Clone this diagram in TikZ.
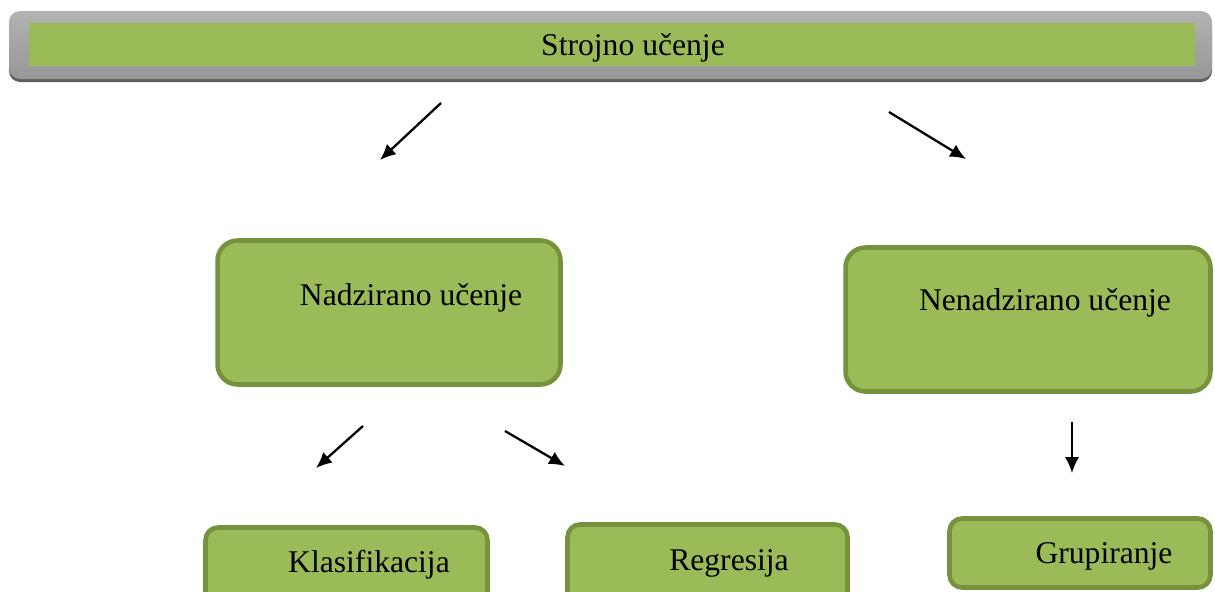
\documentclass[tikz,border=0pt]{standalone}
\usepackage{fontspec}
\setmainfont{Liberation Serif}
\usetikzlibrary{arrows.meta}
\definecolor{zelena}{HTML}{9BBB59}
\definecolor{rub}{HTML}{76923C}
\begin{document}
\begin{tikzpicture}[x=0.02cm,y=-0.02cm,>={Latex[length=9pt,width=8pt]},
  kutija/.style={draw=rub,fill=zelena,line width=2.6pt,rounded corners=0.4cm,inner sep=0pt},
  mala/.style={kutija,rounded corners=0.25cm},
  tekst/.style={font=\fontsize{18}{22}\selectfont,inner sep=0pt},
  strelica/.style={->,line width=1.3pt}]
\useasboundingbox (0,0) rectangle (1215,592);
\clip (0,0) rectangle (1215,592);
% naslovna traka
\fill[black!63,rounded corners=0.22cm] (9,14) rectangle (1212,82);
\shade[top color=black!30,bottom color=black!41,rounded corners=0.22cm] (9,11) rectangle (1212,79);
\node[fill=zelena,minimum width=23.32cm,minimum height=0.86cm,inner sep=0pt] (traka) at (612,44.5) {};
\node[tekst] (strojno) at (633,48) {Strojno učenje};
% kutije
\node[kutija,minimum width=6.86cm,minimum height=2.88cm] (nadz) at (389,312.5) {};
\node[tekst] at (411,298) {Nadzirano učenje};
\node[kutija,minimum width=7.3cm,minimum height=2.88cm] (nenadz) at (1028,319.5) {};
\node[tekst] at (1045,303) {Nenadzirano učenje};
\node[mala,minimum width=5.64cm,minimum height=1.65cm] (klas) at (346.5,568.75) {};
\node[tekst] at (369,565) {Klasifikacija};
\node[mala,minimum width=5.6cm,minimum height=1.71cm] (regr) at (707.5,567.25) {};
\node[tekst] at (729,563) {Regresija};
\node[mala,minimum width=5.22cm,minimum height=1.38cm] (grup) at (1080,553) {};
\node[tekst] at (1104,556) {Grupiranje};
% strelice
\coordinate (a1) at (441,103); \coordinate (b1) at (380,160);
\coordinate (a2) at (889,112); \coordinate (b2) at (966,159);
\coordinate (a3) at (363,426); \coordinate (b3) at (316,468);
\coordinate (a4) at (505,431); \coordinate (b4) at (565,466);
\foreach \i in {1,...,4} \draw[strelica] (a\i)--(b\i);
\coordinate (a5) at (1072,422); \coordinate (b5) at (1072,473);
\draw[->,line width=1pt] (a5)--(b5);
\end{tikzpicture}
\end{document}
